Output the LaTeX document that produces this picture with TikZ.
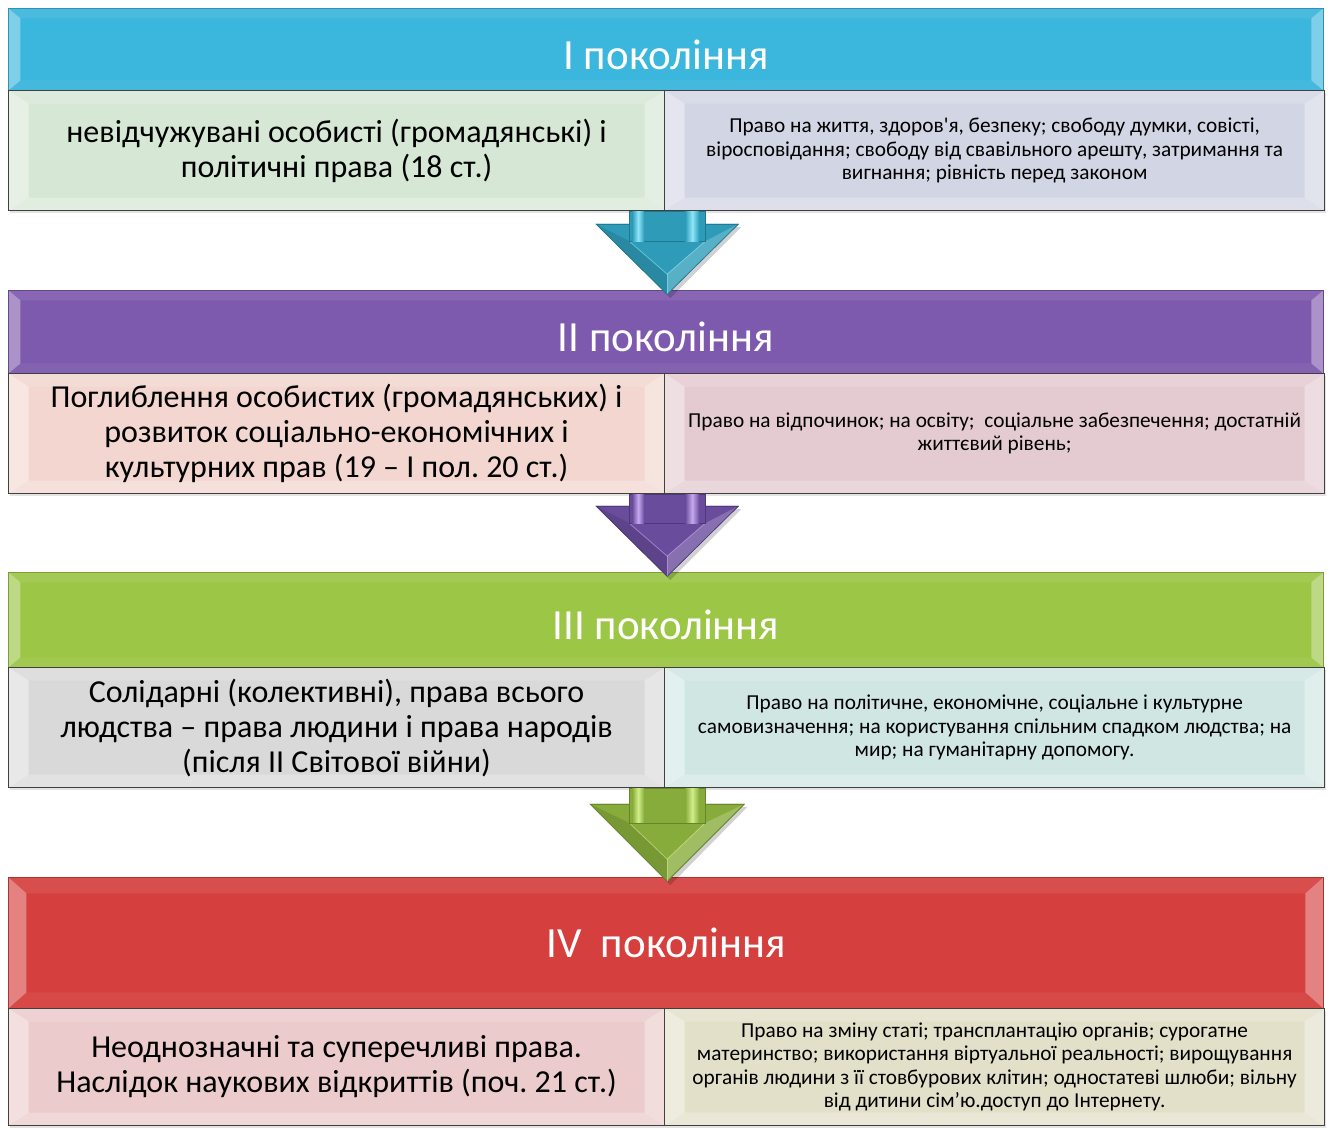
\documentclass[tikz,border=0pt]{standalone}
\usepackage{fontspec}
\newfontfamily\cfont{Carlito}
\usetikzlibrary{calc,shadows}
\frenchspacing
\definecolor{hA}{HTML}{3BB6DC}
\definecolor{hB}{HTML}{7E5AAE}
\definecolor{hC}{HTML}{9CC646}
\definecolor{hD}{HTML}{D5403E}
\definecolor{sAl}{HTML}{D6E7D5}
\definecolor{sAr}{HTML}{D2D5E4}
\definecolor{sBl}{HTML}{F2D6CF}
\definecolor{sBr}{HTML}{E4CAD1}
\definecolor{sCl}{HTML}{D9D9D9}
\definecolor{sCr}{HTML}{D0E6E3}
\definecolor{sDl}{HTML}{ECCBCC}
\definecolor{sDr}{HTML}{E3E0CA}
\definecolor{aAm}{HTML}{2E9CB8}
\definecolor{aAh}{HTML}{8FE6F8}
\definecolor{aAk}{HTML}{1F7890}
\definecolor{aBm}{HTML}{6A4C9C}
\definecolor{aBh}{HTML}{C7A9F0}
\definecolor{aBk}{HTML}{4E3878}
\definecolor{aCm}{HTML}{88AC3C}
\definecolor{aCh}{HTML}{D2EE8A}
\definecolor{aCk}{HTML}{66852A}
\tikzset{
  bevel/.style n args={6}{path picture={
    \fill[white,opacity=#3] (path picture bounding box.north west) -- (path picture bounding box.south west)
      -- ([shift={(#1,-#2)}]path picture bounding box.south west) -- ([shift={(#1,#2)}]path picture bounding box.north west) -- cycle;
    \fill[white,opacity=#4] (path picture bounding box.north east) -- (path picture bounding box.south east)
      -- ([shift={(-#1,-#2)}]path picture bounding box.south east) -- ([shift={(-#1,#2)}]path picture bounding box.north east) -- cycle;
    \fill[white,opacity=#5] (path picture bounding box.north west) -- (path picture bounding box.north east)
      -- ([shift={(-#1,#2)}]path picture bounding box.north east) -- ([shift={(#1,#2)}]path picture bounding box.north west) -- cycle;
    \fill[white,opacity=#6] (path picture bounding box.south west) -- (path picture bounding box.south east)
      -- ([shift={(-#1,-#2)}]path picture bounding box.south east) -- ([shift={(#1,-#2)}]path picture bounding box.south west) -- cycle;
  }},
  hdrbox/.style={anchor=north west, inner sep=0pt, line width=0.8pt, minimum width=1315pt},
  subbox/.style={anchor=north west, inner sep=0pt, draw=black!75, line width=1.2pt, align=center,
     minimum height=#1, drop shadow={opacity=.22, shadow xshift=1pt, shadow yshift=-2pt},
     bevel={20}{13}{.4}{.35}{.15}{.25}},
  lt/.style={font=\cfont\fontsize{32}{35}\selectfont},
  rt/.style={font=\cfont\fontsize{21.3}{23.5}\selectfont},
  htxt/.style={font=\cfont\fontsize{43}{46}\selectfont, text=white, anchor=base, inner sep=0pt},
}
\newcommand\blockarrow[7]{%
\begin{scope}[shift={(#1)}]
 \fill[black,opacity=.18] (-#3+3,#2+3) -- (#3+3,#2+3) -- (3,#2+#4+4) -- cycle;
 \fill[#5,draw=#7,line width=.6pt] (-#3,#2) -- (#3,#2) -- (0,#2+#4) -- cycle;
 \fill[#5!88!black] (-#3,#2) -- (-38,#2+0.243*#4) -- (0,#2+0.714*#4) -- (0,#2+#4) -- cycle;
 \fill[#5!80!white] (#3,#2) -- (38,#2+0.243*#4) -- (0,#2+0.714*#4) -- (0,#2+#4) -- cycle;
 \draw[#7,line width=.6pt] (-#3,#2) -- (#3,#2) -- (0,#2+#4) -- cycle;
 \draw[#6,opacity=.6,line width=.8pt] (-38,#2+0.243*#4) -- (0,#2+0.714*#4) -- (38,#2+0.243*#4);
 \draw[#6,opacity=.5,line width=.8pt] (0,#2+0.714*#4) -- (0,#2+#4);
 \fill[#5,draw=#7,line width=.5pt] (-38,0) rectangle (38,#2+0.243*#4);
 \shade[left color=#5, right color=#5, middle color=#6] (-35,0) rectangle (-23,#2+0.243*#4);
 \shade[left color=#5, right color=#5, middle color=#6] (18,0) rectangle (32,#2+0.243*#4);
\end{scope}}
\begin{document}
\begin{tikzpicture}[x=1pt,y=-1pt]
\useasboundingbox (0,0) rectangle (1331,1129);
% row I
\node[hdrbox, fill=hA, draw=hA!80!black, minimum height=82pt, bevel={12}{10}{.35}{.35}{.08}{.05}] (h1) at (8,8) {};
\node[htxt] (t1) at ($(h1.center)+(0,20)$) {I покоління};
\node[subbox=120pt, fill=sAl, minimum width=656pt, lt] (r1l) at (8,90) {невідчужувані особисті (громадянські) і\\політичні права (18 ст.)};
\node[subbox=120pt, fill=sAr, minimum width=660pt, rt] (r1r) at (664,90) {Право на життя, здоров'я, безпеку; свободу думки, совісті,\\віросповідання; свободу від свавільного арешту, затримання та\\вигнання; рівність перед законом};
% row II
\node[hdrbox, fill=hB, draw=hB!80!black, minimum height=83pt, bevel={12}{10}{.35}{.35}{.08}{.05}] (h2) at (8,290) {};
\node[htxt] (t2) at ($(h2.center)+(0,19.5)$) {II покоління};
\node[subbox=120pt, fill=sBl, minimum width=656pt, lt] (r2l) at (8,373) {Поглиблення особистих (громадянських) і\\розвиток соціально-економічних і\\культурних прав (19 – I пол. 20 ст.)};
\node[subbox=120pt, fill=sBr, minimum width=660pt, rt] (r2r) at (664,373) {Право на відпочинок; на освіту;~ соціальне забезпечення; достатній\\життєвий рівень;};
% row III
\node[hdrbox, fill=hC, draw=hC!80!black, minimum height=95pt, bevel={12}{10}{.35}{.35}{.08}{.05}] (h3) at (8,572) {};
\node[htxt] (t3) at ($(h3.center)+(0,19.5)$) {III покоління};
\node[subbox=120pt, fill=sCl, minimum width=656pt, lt] (r3l) at (8,667) {Солідарні (колективні), права всього\\людства – права людини і права народів\\(після II Світової війни)};
\node[subbox=120pt, fill=sCr, minimum width=660pt, rt] (r3r) at (664,667) {Право на політичне, економічне, соціальне і культурне\\самовизначення; на користування спільним спадком людства; на\\мир; на гуманітарну допомогу.};
% row IV
\node[hdrbox, fill=hD, draw=hD!80!black, minimum height=131pt, bevel={18}{16}{.35}{.35}{.08}{.05}] (h4) at (8,877) {};
\node[htxt] (t4) at ($(h4.center)+(0,15)$) {IV~ покоління};
\node[subbox=117pt, fill=sDl, minimum width=656pt, lt] (r4l) at (8,1008) {Неоднозначні та суперечливі права.\\Наслідок наукових відкриттів (поч. 21 ст.)};
\node[subbox=117pt, fill=sDr, minimum width=660pt, rt] (r4r) at (664,1008) {Право на зміну статі; трансплантацію органів; сурогатне\\материнство; використання віртуальної реальності; вирощування\\органів людини з її стовбурових клітин; одностатеві шлюби; вільну\\від дитини сім’ю.доступ до Інтернету.};
% arrows
\coordinate (a1) at ($(r1l.south east)+(2,0)$);
\coordinate (a2) at ($(r2l.south east)+(2,0)$);
\coordinate (a3) at ($(r3l.south east)+(2,0)$);
\blockarrow{a1}{13}{71}{70}{aAm}{aAh}{aAk}
\blockarrow{a2}{12}{71}{70}{aBm}{aBh}{aBk}
\blockarrow{a3}{16}{77}{77}{aCm}{aCh}{aCk}
\end{tikzpicture}
\end{document}
